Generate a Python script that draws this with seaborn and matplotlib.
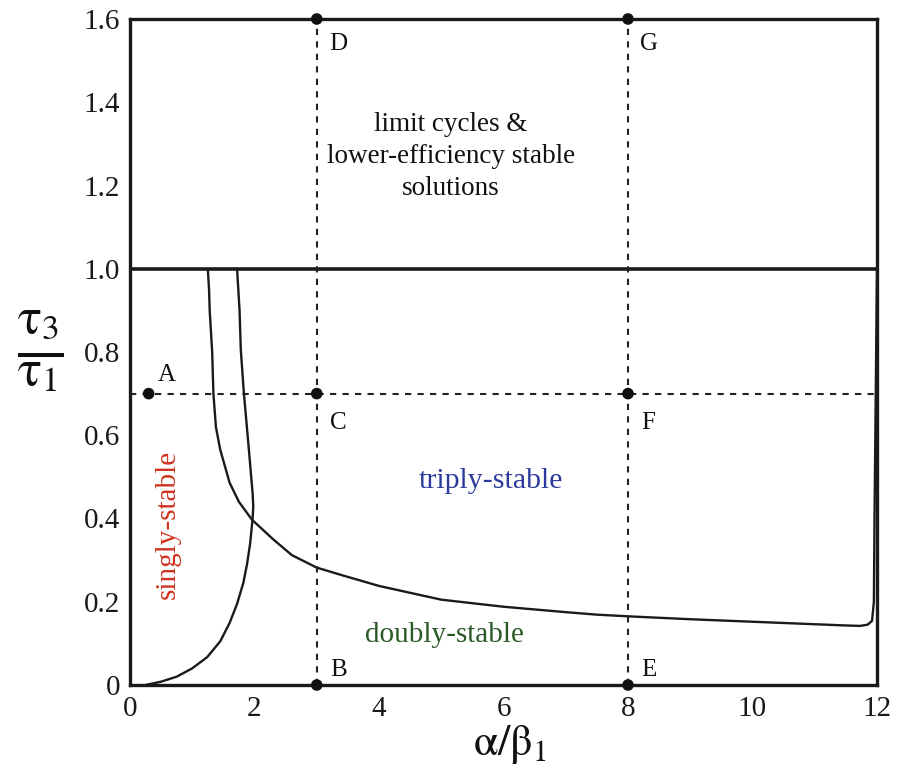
import numpy as np
import pandas as pd
import matplotlib
matplotlib.use("Agg")
import matplotlib.pyplot as plt
import seaborn as sns

# ---- data ----
curve1_x = [1.25, 1.27, 1.28, 1.32, 1.34, 1.38, 1.45, 1.6, 1.75, 1.96, 2.3, 2.6, 3.0, 3.4,
            4.0, 5.0, 6.0, 7.0, 7.5, 8.0, 9.0, 10.0, 10.5, 11.0, 11.5, 11.73, 11.85, 11.92,
            11.95, 11.96, 11.98, 12.0]
curve1_y = [1.0, 0.95, 0.9, 0.8, 0.7, 0.62, 0.565, 0.486, 0.44, 0.397, 0.35, 0.312, 0.282, 0.264,
            0.238, 0.205, 0.188, 0.175, 0.169, 0.165, 0.158, 0.152, 0.149, 0.146, 0.143, 0.142, 0.145, 0.154,
            0.2, 0.4, 0.7, 1.0]
curve2_x = [1.72, 1.74, 1.76, 1.78, 1.83, 1.91, 1.97, 1.98, 1.97, 1.93, 1.88, 1.82, 1.72, 1.6, 1.45,
            1.24, 1.0, 0.75, 0.5, 0.25]
curve2_y = [1.0, 0.95, 0.9, 0.805, 0.7, 0.565, 0.46, 0.43, 0.40, 0.34, 0.29, 0.245, 0.195, 0.149, 0.105,
            0.067, 0.04, 0.02, 0.008, 0.0]

point_names = ["A", "C", "F", "B", "E", "D", "G"]
point_x = [0.3, 3, 8, 3, 8, 3, 8]
point_y = [0.7, 0.7, 0.7, 0.0, 0.0, 1.6, 1.6]

x_ticks = [0, 2, 4, 6, 8, 10, 12]
y_ticks = [0, 0.2, 0.4, 0.6, 0.8, 1.0, 1.2, 1.4, 1.6]
y_tick_labels = ["0", "0.2", "0.4", "0.6", "0.8", "1.0", "1.2", "1.4", "1.6"]

region_texts = ["limit cycles &\nlower-efficiency stable\nsolutions", "triply-stable",
                "doubly-stable", "singly-stable"]

# ---- plotting ----
sns.set_theme(style="white")
plt.rcParams["font.family"] = ["Liberation Serif", "DejaVu Serif"]
plt.rcParams["mathtext.fontset"] = "stix"

fig = plt.figure(figsize=(8.98, 7.74), dpi=100)
ax = fig.add_axes([130 / 898, 1 - 685 / 774, 747 / 898, 666 / 774])

c1 = pd.DataFrame({"x": curve1_x, "y": curve1_y})
c2 = pd.DataFrame({"x": curve2_x, "y": curve2_y})
sns.lineplot(data=c1, x="x", y="y", sort=False, estimator=None, color="#1a1a1a", lw=1.7, ax=ax)
sns.lineplot(data=c2, x="x", y="y", sort=False, estimator=None, color="#1a1a1a", lw=1.7, ax=ax)

# boundary at tau3/tau1 = 1
ax.axhline(1.0, color="#1a1a1a", lw=2.6)
# dashed guides
ax.axhline(0.7, color="#222222", lw=1.5, ls=(0, (3, 3)))
for xv in (3, 8):
    ax.axvline(xv, color="#222222", lw=1.5, ls=(0, (3, 3)))

pts = pd.DataFrame({"x": point_x, "y": point_y, "name": point_names})
sns.scatterplot(data=pts, x="x", y="y", color="#111111", s=70, edgecolor="none",
                ax=ax, clip_on=False, zorder=5)

offsets = {"A": (0.15, 0.045), "C": (0.22, -0.07), "F": (0.22, -0.07),
           "B": (0.22, 0.035), "E": (0.22, 0.035), "D": (0.2, -0.06), "G": (0.2, -0.06)}
for n, xv, yv in zip(point_names, point_x, point_y):
    dx, dy = offsets[n]
    ax.text(xv + dx, yv + dy, n, fontsize=18, ha="left", va="center", color="#111111")

ax.text(5.15, 1.27, region_texts[0], fontsize=19.5, ha="center", va="center",
        linespacing=1.35, color="#111111")
ax.text(5.8, 0.49, region_texts[1], fontsize=21.5, ha="center", va="center", color="#2b3a9c")
ax.text(5.05, 0.12, region_texts[2], fontsize=21, ha="center", va="center", color="#2a5a26")
ax.text(0.6, 0.385, region_texts[3], fontsize=21, ha="center", va="center",
        rotation=90, color="#d0321e")

ax.set_xlim(0, 12)
ax.set_ylim(0, 1.6)
ax.set_xticks(x_ticks)
ax.set_xticklabels([str(v) for v in x_ticks])
ax.set_yticks(y_ticks)
ax.set_yticklabels(y_tick_labels)
ax.tick_params(axis="both", length=0, labelsize=21, colors="#1a1a1a")
ax.tick_params(axis="y", pad=7)
ax.tick_params(axis="x", pad=8)
ax.set_xlabel("")
ax.set_ylabel("")
for sp in ax.spines.values():
    sp.set_visible(True)
    sp.set_color("#1a1a1a")
    sp.set_linewidth(2.4)

fig.text(40 / 898, 1 - 352 / 774, r"$\frac{\mathrm{\tau}_3}{\mathrm{\tau}_1}$", fontsize=52,
         ha="center", va="center", color="#111111")
fig.text(510 / 898, 1 - 744 / 774, r"$\mathrm{\alpha}/\mathrm{\beta}_1$", fontsize=32,
         ha="center", va="center", color="#111111")

fig.savefig("out.png", dpi=100)
